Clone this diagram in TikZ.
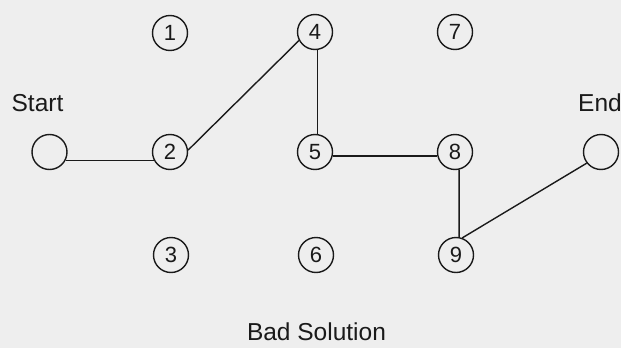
\documentclass[tikz,border=0pt]{standalone}
\usepackage{fontspec}
\setmainfont{Liberation Sans}
\definecolor{paper}{HTML}{EEEEEE}
\definecolor{ink}{HTML}{1A1A1A}
\begin{document}
\begin{tikzpicture}[x=1pt,y=-1pt,
  cell/.style={circle,draw=ink,line width=1.4pt,minimum size=35pt,inner sep=0pt,
    font=\fontsize{22}{22}\selectfont,text=ink},
  label/.style={font=\fontsize{24.5}{24.5}\selectfont,text=ink,inner sep=0pt},
  link/.style={draw=ink,line width=1.4pt}]
  % canvas
  \fill[paper] (0,0) rectangle (621,348);
  \useasboundingbox (0,0) rectangle (621,348);
  % grid of cells
  \node[cell] (n1) at (170,33) {1};
  \node[cell] (n2) at (170,152) {2};
  \node[cell] (n3) at (171,255) {3};
  \node[cell] (n4) at (315,32) {4};
  \node[cell] (n5) at (315,152) {5};
  \node[cell] (n6) at (316,255) {6};
  \node[cell] (n7) at (455,32) {7};
  \node[cell] (n8) at (455,152) {8};
  \node[cell] (n9) at (456,255) {9};
  % terminals
  \node[cell] (start) at (49.5,152) {};
  \node[cell] (end) at (601,152) {};
  \node[label] (startlbl) at (37.5,103) {Start};
  \node[label] (endlbl) at (600,103) {End};
  \node[label] (title) at (316.5,332) {Bad Solution};
  % path
  \draw[link] (start.-28) -- (n2.-152);
  \draw[link] (n2.6) -- (n4.208);
  \draw[link] (n4.-82) -- (n5.82);
  \draw[link] (n5.-13) -- (n8.-167);
  \draw[link] (n8.-77) -- (n9.80);
  \draw[link] (n9.70) -- (end.-142);
\end{tikzpicture}
\end{document}
